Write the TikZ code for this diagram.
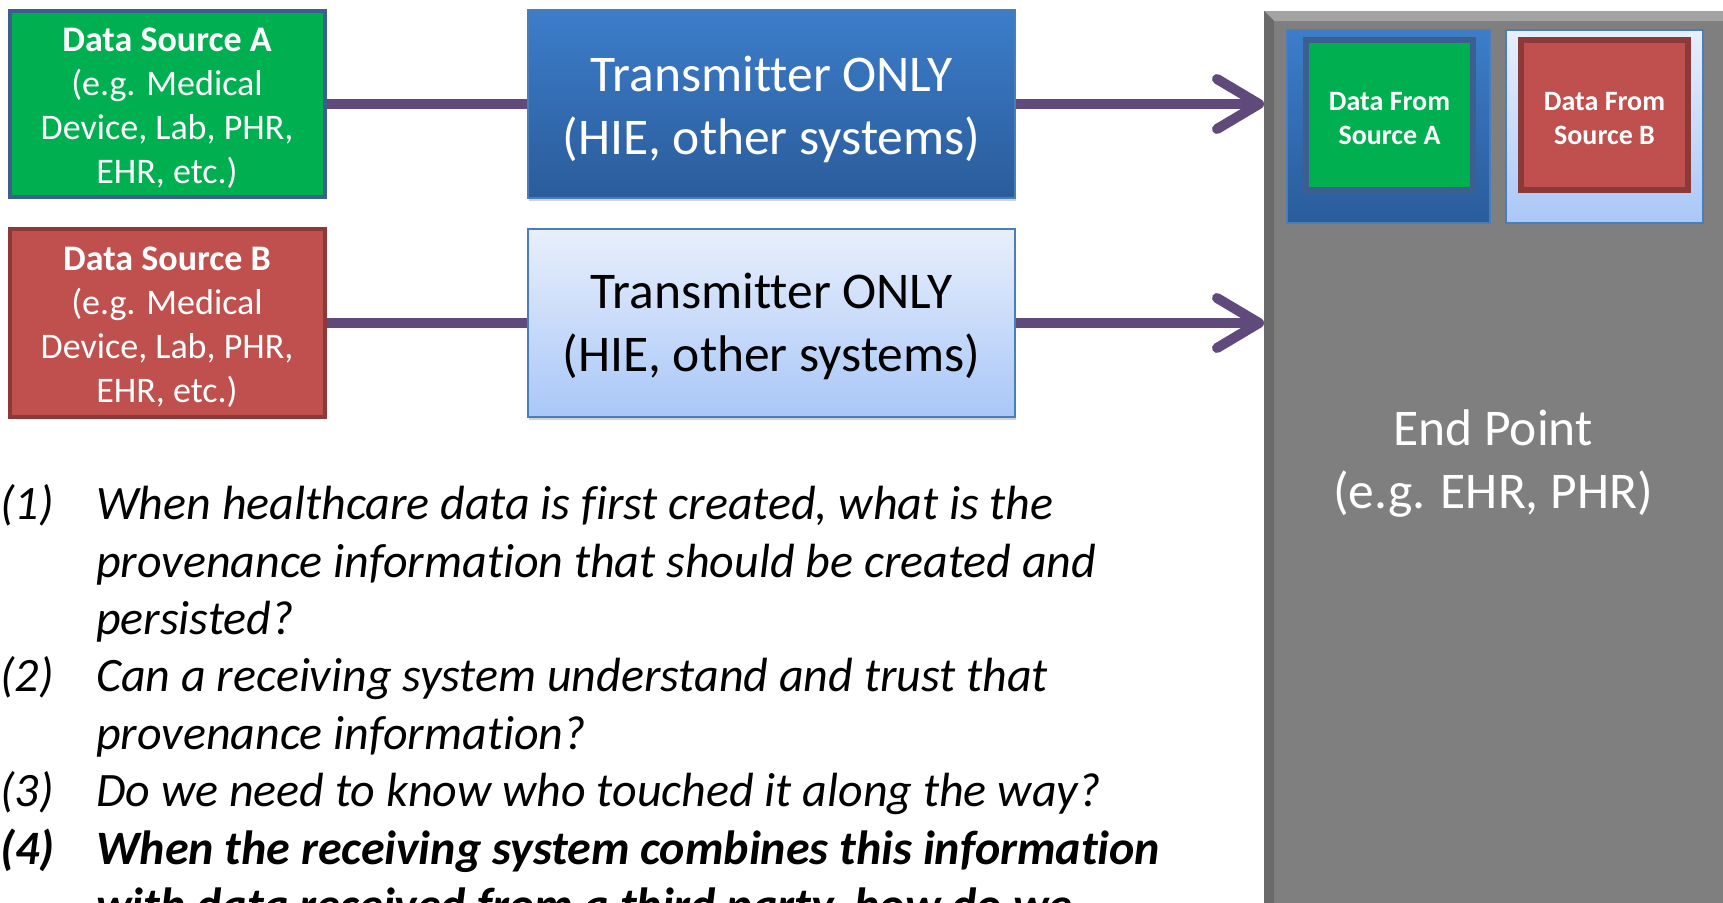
\documentclass[tikz,border=0pt]{standalone}
\usepackage{fontspec}
\setmainfont{Carlito}[Ligatures=NoCommon]
\usetikzlibrary{arrows.meta,shadows}
\definecolor{srcgreen}{HTML}{00B050}
\definecolor{srcAline}{HTML}{3B5F8E}
\definecolor{srcred}{HTML}{C0504D}
\definecolor{srcBline}{HTML}{8C3A38}
\definecolor{conpurple}{HTML}{604A7B}
\definecolor{tAtop}{HTML}{3C7DCA}
\definecolor{tAbot}{HTML}{2A5C9B}
\definecolor{tline}{HTML}{4A7EBB}
\definecolor{tBtop}{HTML}{E8EFFC}
\definecolor{tBbot}{HTML}{A9C7F8}
\definecolor{epgray}{HTML}{7F7F7F}
\definecolor{epbevel}{HTML}{A3A3A3}
\definecolor{epdark}{HTML}{6A6A6A}
\begin{document}
\begin{tikzpicture}[x=1pt,y=-1pt,
  srcbox/.style={rectangle, line width=4pt, minimum width=315pt, inner sep=0pt},
  srctext/.style={text=white, align=center, inner sep=0pt, font=\fontsize{36}{44}\selectfont},
  tbox/.style={rectangle, draw=tline, line width=1.5pt, minimum width=487pt, minimum height=188pt,
    inner sep=0pt, drop shadow={opacity=0.35, shadow xshift=1pt, shadow yshift=-3pt}},
  tdark/.style={tbox, top color=tAtop, bottom color=tAbot},
  tlight/.style={tbox, top color=tBtop, bottom color=tBbot},
  ttext/.style={align=center, inner sep=0pt, font=\fontsize{51.5}{63}\selectfont},
  slot/.style={rectangle, draw=tline, line width=1.5pt, minimum height=193pt, inner sep=0pt,
    drop shadow={opacity=0.35, shadow xshift=1pt, shadow yshift=-3pt}},
  inner/.style={rectangle, line width=6pt, minimum width=167pt, minimum height=150pt, inner sep=0pt},
  innertext/.style={text=white, align=center, inner sep=0pt, font=\bfseries\fontsize{28}{34}\selectfont},
  conn/.style={draw=conpurple, line width=10pt},
  tip/.style={-{Straight Barb[length=42pt, width=50pt, round]}},
  qtext/.style={anchor=base west, inner sep=0pt, font=\itshape\fontsize{48}{57}\selectfont},
  qbold/.style={qtext, font=\bfseries\itshape\fontsize{48}{57}\selectfont}
]
\clip (0,0) rectangle (1723,902);
\fill[white] (0,0) rectangle (1723,902);

% End point container
\node[rectangle, fill=epgray, draw=none, minimum width=476pt, minimum height=909pt, anchor=north west, inner sep=0pt]
  (ep) at (1264,11) {};
\fill[epbevel] (1264,11) -- (1740,11) -- (1730,21) -- (1274,21) -- cycle;
\fill[epdark] (1264,11) -- (1274,21) -- (1274,920) -- (1264,920) -- cycle;
\node[text=white, align=center, font=\fontsize{51.5}{63}\selectfont] (eptext) at (1493,464) {End Point\\(e.g. EHR, PHR)};

% slots inside end point
\node[slot, top color=tAtop, bottom color=tAbot, minimum width=203pt] (slotA) at (1388.5,126.5) {};
\node[slot, top color=tBtop, bottom color=tBbot, minimum width=197pt] (slotB) at (1604.5,126.5) {};
\node[inner, fill=srcgreen, draw=srcAline] (dA) at (1389.5,115) {};
\node[inner, fill=srcred, draw=srcBline] (dB) at (1604.5,115) {};
\node[innertext] (dAt) at ([yshift=-3.5pt]dA.center) {Data From\\Source A};
\node[innertext] (dBt) at ([yshift=-3.5pt]dB.center) {Data From\\Source B};

% sources
\node[srcbox, fill=srcgreen, draw=srcAline, minimum height=186pt] (sa) at (167,104) {};
\node[srcbox, fill=srcred, draw=srcBline, minimum height=188pt] (sb) at (167,323) {};
\node[srctext] (sat) at ([yshift=-4.5pt]sa.center) {\textbf{Data Source A}\\(e.g. Medical\\Device, Lab, PHR,\\EHR, etc.)};
\node[srctext] (sbt) at ([yshift=-4.5pt]sb.center) {\textbf{Data Source B}\\(e.g. Medical\\Device, Lab, PHR,\\EHR, etc.)};

% transmitters
\node[tdark] (t1) at (771.5,104) {};
\node[tlight] (t2) at (771.5,323) {};
\node[ttext, text=white] (t1t) at ([yshift=-5.5pt]t1.center) {Transmitter ONLY\\(HIE, other systems)};
\node[ttext, text=black] (t2t) at ([yshift=-3.5pt]t2.center) {Transmitter ONLY\\(HIE, other systems)};

% connectors
\draw[conn] (sa.east) -- (t1.west);
\draw[conn] (sb.east) -- (t2.west);
\draw[conn, tip] (t1.east) -- (ep.west |- t1.east);
\draw[conn, tip] (t2.east) -- (ep.west |- t2.east);

% questions
\node[qtext] (n1) at (0,519) {(1)};
\node[qtext] (q1a) at (96,519) {When healthcare data is first created, what is the};
\node[qtext] (q1b) at (96,577) {provenance information that should be created and};
\node[qtext] (q1c) at (96,634) {persisted?};
\node[qtext] (n2) at (0,691) {(2)};
\node[qtext] (q2a) at (96,691) {Can a receiving system understand and trust that};
\node[qtext] (q2b) at (96,749) {provenance information?};
\node[qtext] (n3) at (0,806) {(3)};
\node[qtext] (q3a) at (96,806) {Do we need to know who touched it along the way?};
\node[qbold] (n4) at (0,864) {(4)};
\node[qbold] (q4a) at (96,864) {When the receiving system combines this information};
\node[qbold] (q4b) at (96,921) {with data received from a third party, how do we};
\end{tikzpicture}
\end{document}
